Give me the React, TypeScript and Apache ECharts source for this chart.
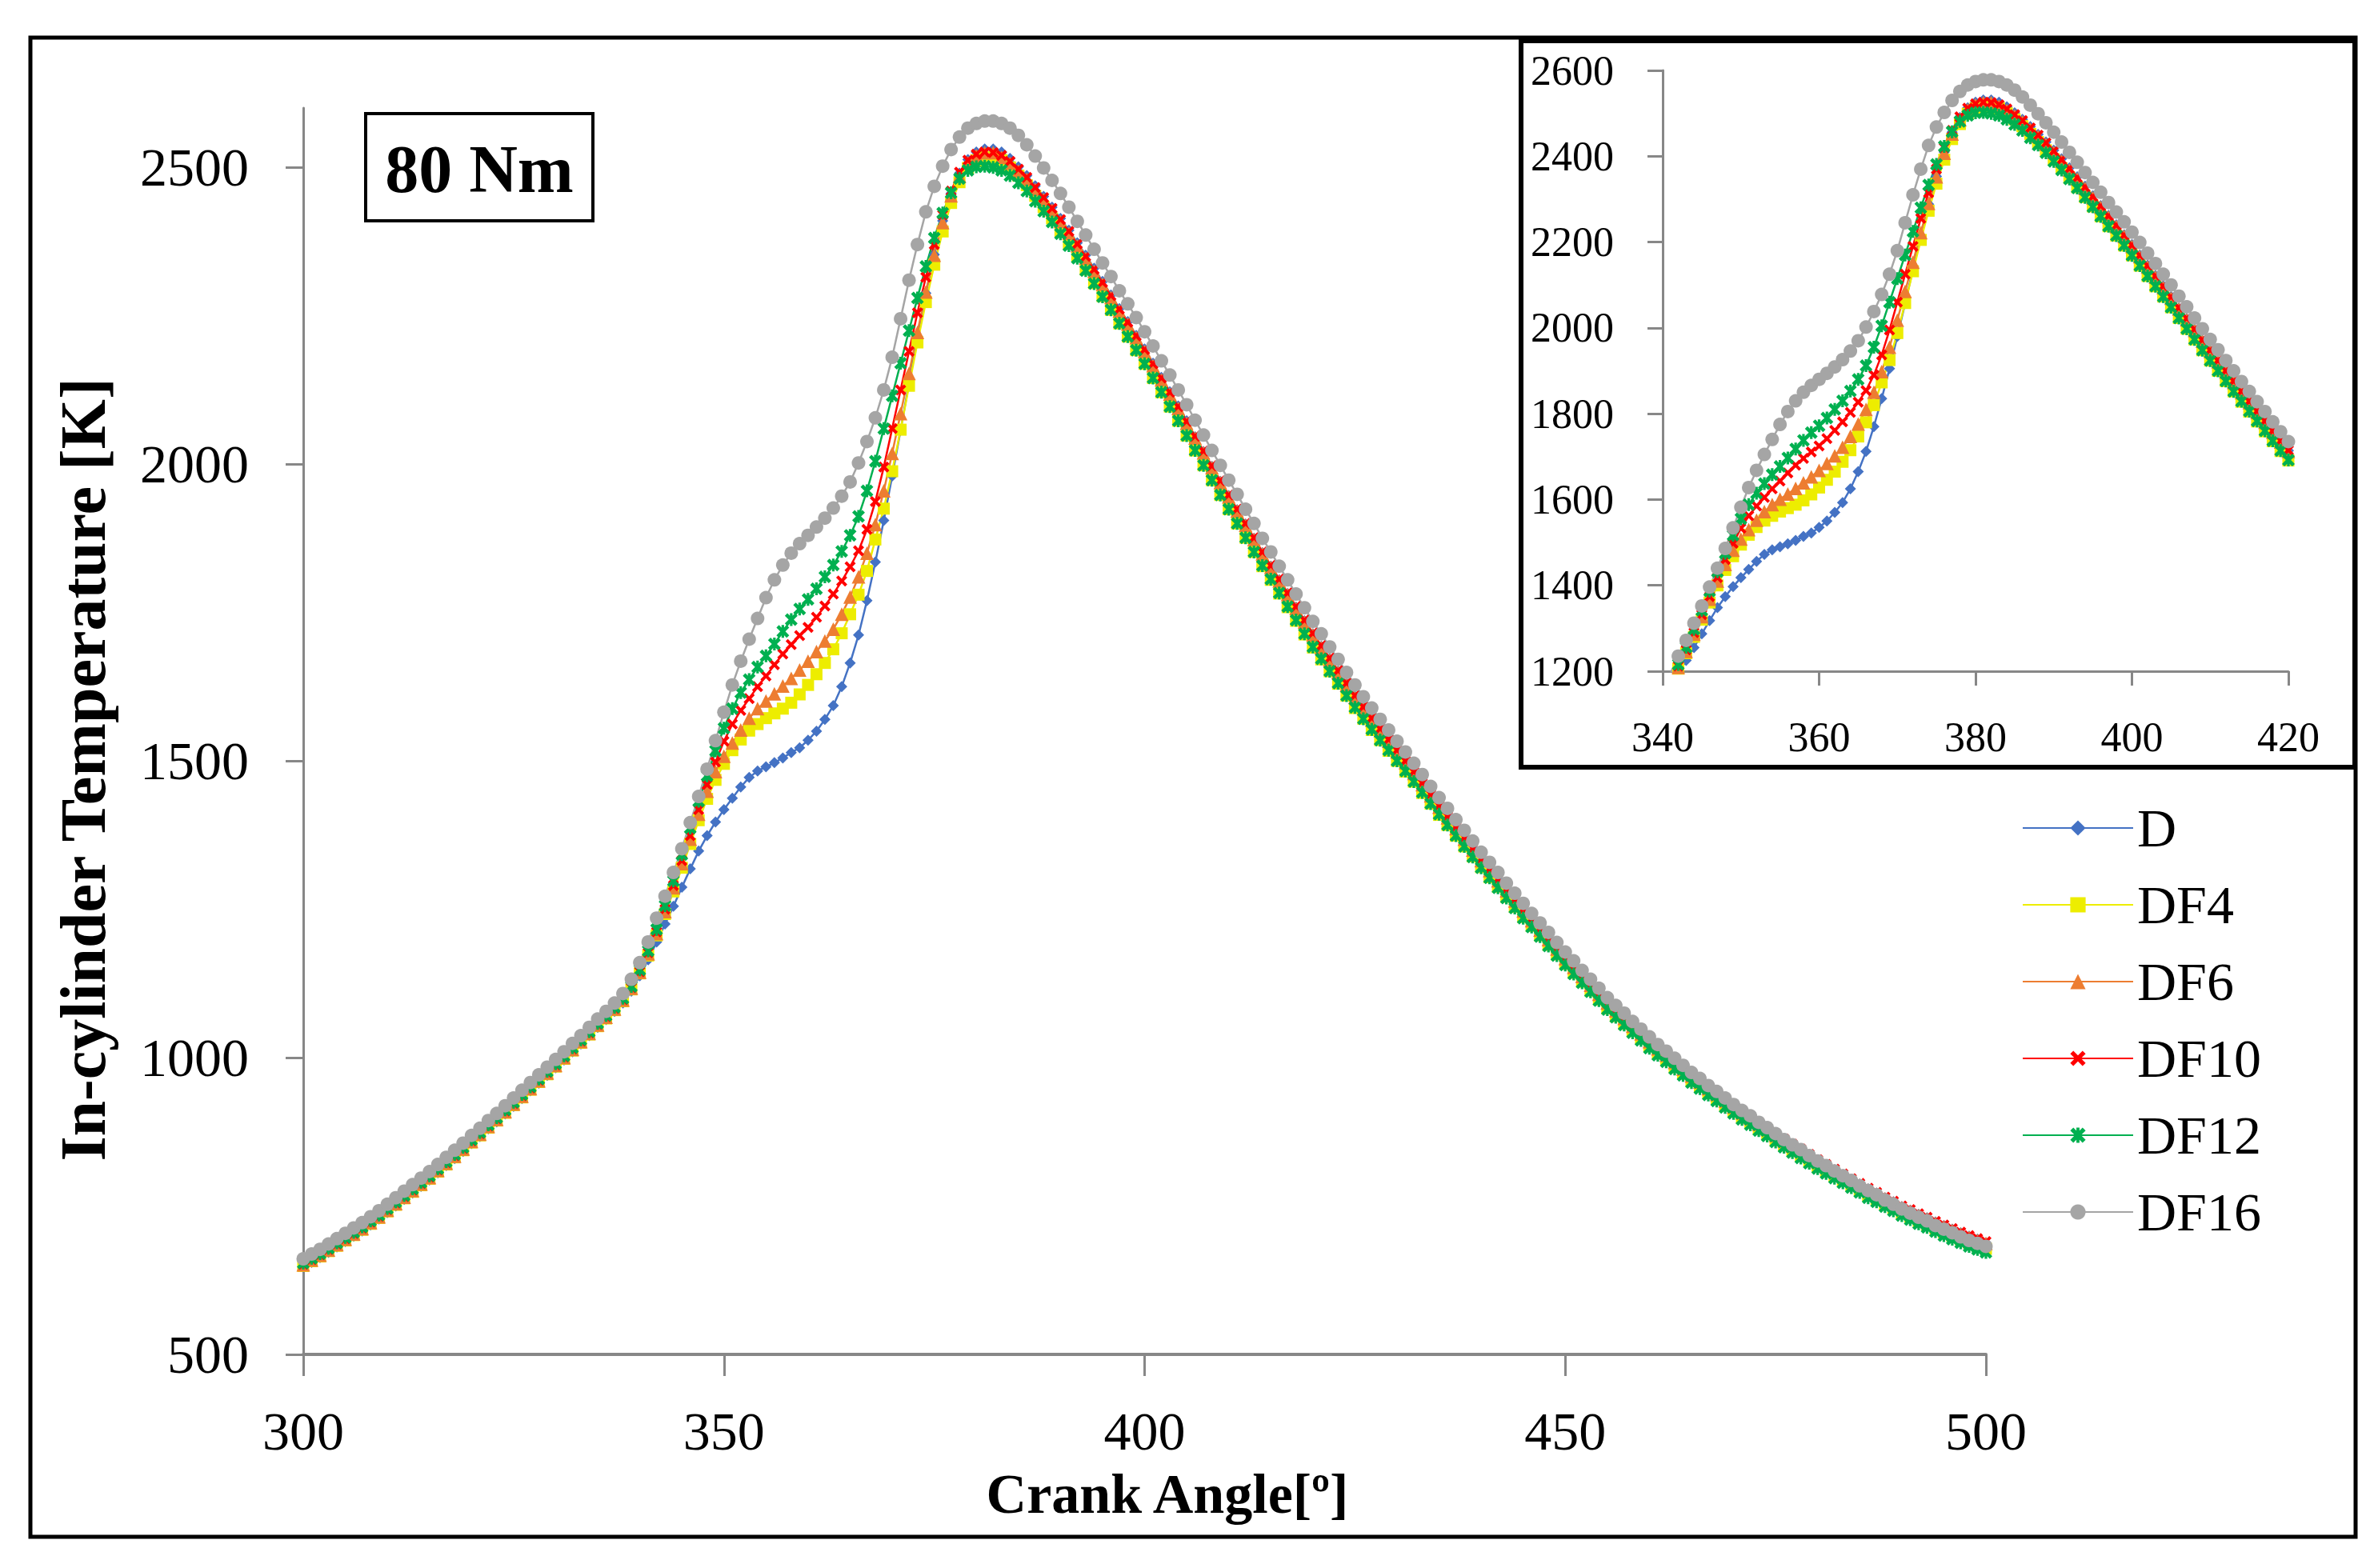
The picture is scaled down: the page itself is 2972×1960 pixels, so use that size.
import React, { useEffect, useRef } from "react";
import * as echarts from "echarts";

// ---------- data (crank angle 300..500 deg, step 1) ----------
const CRANK_START = 300;
const CRANK_STEP = 1;

const SERIES_NAMES = ["D", "DF4", "DF6", "DF10", "DF12", "DF16"];

const T_D = [
  647,655,663,672,681,690,699,708,718,728,
  739,750,761,772,783,794,806,818,830,842,
  855,867,880,892,905,918,931,944,957,970,
  983,996,1010,1023,1037,1051,1064,1078,1092,1112,
  1138,1165,1195,1225,1255,1287,1318,1348,1374,1397,
  1418,1437,1456,1472,1483,1490,1497,1505,1514,1522,
  1535,1550,1570,1593,1625,1665,1712,1770,1835,1905,
  1980,2057,2137,2215,2288,2353,2410,2456,2490,2513,
  2526,2531,2531,2526,2515,2501,2486,2469,2451,2433,
  2414,2394,2373,2352,2330,2308,2285,2262,2240,2217,
  2194,2170,2146,2122,2098,2073,2046,2021,1996,1971,
  1947,1923,1899,1875,1851,1828,1805,1782,1759,1736,
  1714,1693,1672,1651,1630,1609,1590,1571,1553,1535,
  1517,1499,1481,1462,1443,1424,1406,1388,1370,1352,
  1334,1317,1300,1283,1266,1249,1233,1217,1201,1185,
  1169,1154,1139,1124,1109,1094,1081,1068,1055,1042,
  1029,1017,1006,994,983,971,961,950,940,929,
  919,909,900,890,881,871,862,853,845,836,
  827,819,811,803,795,787,779,772,764,757,
  749,743,736,730,723,717,711,705,699,694,
  688,
];

const T_DF4 = [
  649,657,665,674,683,692,701,710,720,730,
  741,752,763,774,785,796,808,820,832,844,
  857,869,882,894,907,920,933,946,959,972,
  985,998,1012,1025,1039,1053,1066,1080,1095,1115,
  1142,1172,1206,1242,1280,1320,1360,1400,1436,1468,
  1495,1518,1536,1551,1562,1572,1580,1588,1598,1612,
  1628,1646,1665,1688,1715,1747,1780,1820,1873,1925,
  1988,2058,2132,2205,2273,2336,2392,2440,2475,2499,
  2512,2517,2517,2512,2500,2486,2470,2452,2433,2414,
  2393,2372,2350,2328,2305,2283,2260,2237,2215,2192,
  2169,2145,2121,2097,2073,2048,2023,1998,1973,1948,
  1924,1900,1876,1852,1828,1805,1782,1759,1736,1713,
  1691,1671,1651,1630,1610,1589,1571,1552,1535,1517,
  1500,1482,1465,1446,1428,1409,1392,1374,1356,1339,
  1321,1304,1288,1271,1254,1237,1222,1206,1190,1174,
  1158,1143,1128,1113,1098,1083,1070,1057,1045,1032,
  1019,1007,996,984,973,961,951,940,930,919,
  909,899,890,880,871,861,852,843,835,826,
  817,809,801,793,785,777,768,761,753,746,
  738,732,725,719,712,706,700,694,688,683,
  678,
];

const T_DF6 = [
  651,659,667,676,685,694,703,712,722,732,
  743,754,765,776,787,798,810,822,834,846,
  859,871,884,896,909,922,935,948,961,974,
  987,1000,1014,1027,1041,1055,1068,1082,1097,1117,
  1144,1175,1209,1246,1286,1327,1368,1410,1449,1482,
  1508,1530,1552,1572,1588,1601,1613,1626,1639,1653,
  1668,1684,1702,1722,1747,1776,1810,1850,1898,1955,
  2018,2085,2153,2222,2290,2352,2407,2452,2485,2508,
  2520,2525,2525,2517,2507,2494,2480,2463,2446,2428,
  2409,2389,2368,2347,2325,2303,2281,2258,2236,2213,
  2190,2166,2142,2118,2094,2069,2044,2019,1994,1969,
  1945,1921,1897,1873,1849,1826,1803,1780,1757,1734,
  1712,1691,1670,1649,1628,1607,1588,1569,1551,1533,
  1515,1497,1479,1460,1441,1422,1404,1386,1368,1350,
  1332,1315,1298,1281,1264,1247,1231,1215,1199,1183,
  1167,1152,1137,1122,1107,1092,1079,1066,1053,1040,
  1027,1015,1004,992,981,969,959,948,938,927,
  917,907,898,888,879,869,860,851,843,834,
  825,817,809,801,793,785,777,770,762,755,
  747,741,734,728,721,715,709,703,697,692,
  687,
];

const T_DF10 = [
  652,660,668,677,686,695,704,713,723,733,
  744,755,766,777,788,799,811,823,835,847,
  860,872,885,897,910,923,936,949,962,975,
  988,1001,1015,1028,1042,1056,1069,1083,1098,1118,
  1145,1177,1212,1250,1290,1332,1374,1418,1460,1498,
  1533,1562,1585,1605,1625,1643,1662,1680,1696,1711,
  1725,1742,1761,1781,1803,1827,1854,1890,1937,1995,
  2060,2125,2190,2255,2315,2370,2420,2460,2492,2512,
  2522,2526,2525,2520,2510,2497,2483,2466,2449,2431,
  2412,2392,2371,2350,2328,2306,2284,2261,2239,2216,
  2193,2169,2145,2121,2097,2072,2047,2022,1997,1972,
  1948,1924,1900,1876,1852,1829,1806,1783,1760,1737,
  1715,1694,1673,1652,1631,1610,1591,1572,1554,1536,
  1518,1500,1482,1463,1444,1425,1407,1389,1371,1353,
  1335,1318,1301,1284,1267,1250,1234,1218,1202,1186,
  1170,1155,1140,1125,1110,1095,1082,1069,1056,1043,
  1030,1018,1007,995,984,972,962,951,941,930,
  920,910,901,891,882,872,863,854,846,837,
  828,820,812,804,796,788,780,773,765,758,
  750,744,737,731,724,718,712,706,700,695,
  690,
];

const T_DF12 = [
  654,662,670,679,688,697,706,715,725,735,
  746,757,768,779,790,801,813,825,837,849,
  862,874,887,899,912,925,938,951,964,977,
  990,1003,1017,1030,1044,1058,1071,1085,1100,1120,
  1148,1180,1216,1256,1298,1342,1387,1432,1475,1517,
  1555,1588,1615,1637,1658,1677,1697,1718,1738,1756,
  1772,1790,1810,1830,1853,1880,1912,1955,2005,2060,
  2115,2170,2225,2280,2333,2381,2423,2457,2481,2495,
  2501,2502,2500,2495,2486,2474,2460,2443,2426,2408,
  2388,2368,2347,2326,2304,2282,2260,2237,2215,2192,
  2169,2145,2121,2097,2073,2048,2023,1998,1973,1948,
  1924,1900,1876,1852,1829,1806,1783,1760,1737,1714,
  1692,1672,1651,1631,1610,1590,1571,1553,1535,1518,
  1500,1483,1465,1447,1428,1410,1392,1374,1356,1338,
  1320,1303,1286,1269,1252,1235,1220,1204,1188,1172,
  1156,1141,1126,1111,1096,1081,1068,1055,1042,1029,
  1016,1004,993,981,970,958,948,937,927,916,
  906,896,887,877,868,858,849,840,831,822,
  813,805,797,789,781,773,764,757,749,742,
  734,727,720,714,707,700,694,688,682,677,
  672,
];

const T_DF16 = [
  661,669,677,686,695,704,713,722,732,742,
  753,764,775,786,797,808,820,832,844,856,
  869,881,894,906,919,932,945,958,971,984,
  997,1010,1024,1037,1051,1065,1078,1092,1108,1132,
  1160,1195,1235,1272,1312,1352,1396,1440,1486,1534,
  1582,1628,1668,1705,1740,1775,1805,1830,1850,1866,
  1880,1894,1909,1926,1946,1970,2002,2038,2078,2125,
  2180,2245,2310,2370,2425,2468,2502,2530,2551,2566,
  2574,2578,2578,2574,2566,2554,2538,2519,2499,2478,
  2456,2433,2409,2386,2362,2339,2316,2292,2270,2247,
  2223,2199,2174,2150,2125,2100,2074,2049,2023,1998,
  1973,1949,1924,1900,1875,1852,1828,1805,1781,1758,
  1735,1714,1692,1671,1649,1628,1608,1589,1570,1552,
  1533,1515,1496,1477,1457,1438,1420,1401,1383,1365,
  1346,1329,1312,1294,1277,1260,1243,1227,1211,1194,
  1178,1163,1147,1132,1117,1101,1088,1075,1061,1048,
  1035,1022,1011,999,987,975,965,953,943,932,
  921,911,902,891,882,872,862,853,845,835,
  826,818,809,801,793,784,776,769,760,753,
  745,738,731,725,717,711,705,698,692,687,
  682,
];

const SERIES_VALUES = [T_D, T_DF4, T_DF6, T_DF10, T_DF12, T_DF16];

const MAIN_Y_TICKS = [500, 1000, 1500, 2000, 2500];
const MAIN_X_RANGE = [300, 500];
const MAIN_Y_RANGE = [500, 2600];
const INSET_X_RANGE = [340, 420];
const INSET_Y_RANGE = [1200, 2600];

const LOAD_LABEL = "80 Nm";
const X_TITLE = "Crank Angle[º]";
const Y_TITLE = "In-cylinder Temperature [K]";

// ---------- styling ----------
const W = 2972;
const H = 1960;
const FONT = "'Liberation Serif', 'Times New Roman', serif";
const AXIS_GRAY = "#878787";

const X_SYMBOL = "path://M0,2L2,0L5,3L8,0L10,2L7,5L10,8L8,10L5,7L2,10L0,8L3,5Z";
const STAR_SYMBOL =
  "path://M0,2L2,0L5,3L8,0L10,2L7,5L10,8L8,10L5,7L2,10L0,8L3,5ZM4,0L6,0L6,10L4,10Z";

const STYLES = [
  { color: "#4472C4", symbol: "diamond", size: 14 },
  { color: "#EDED00", symbol: "rect", size: 15 },
  { color: "#ED7D31", symbol: "triangle", size: 17 },
  { color: "#FF0000", symbol: X_SYMBOL, size: 14 },
  { color: "#00B050", symbol: STAR_SYMBOL, size: 16 },
  { color: "#A5A5A5", symbol: "circle", size: 17 },
];

export default function App() {
  const ref = useRef<HTMLDivElement>(null);

  useEffect(() => {
    document.body.style.margin = "0";
    if (!ref.current) return;
    const chart = echarts.init(ref.current, null, { renderer: "svg", width: W, height: H });

    const series: any[] = [];
    SERIES_VALUES.forEach((vals, k) => {
      const st = STYLES[k];
      const pairs = vals.map((v, i) => [CRANK_START + i * CRANK_STEP, v]);
      const base = {
        type: "line",
        name: SERIES_NAMES[k],
        symbol: st.symbol,
        lineStyle: { color: st.color, width: 2.5 },
        itemStyle: { color: st.color },
        emphasis: { disabled: true },
        silent: true,
        animation: false,
        clip: true,
      };
      series.push({ ...base, xAxisIndex: 0, yAxisIndex: 0, symbolSize: st.size, data: pairs });
      series.push({
        ...base,
        xAxisIndex: 1,
        yAxisIndex: 1,
        symbolSize: st.size,
        data: pairs.filter((p) => p[0] >= INSET_X_RANGE[0] && p[0] <= INSET_X_RANGE[1]),
      });
    });

    const labelMain = { color: "#000", fontFamily: FONT, fontSize: 68 };
    const labelInset = { color: "#000", fontFamily: FONT, fontSize: 52 };
    const plain = (v: number) => String(v);

    chart.setOption({
      animation: false,
      backgroundColor: "#ffffff",
      grid: [
        { left: 379, top: 135, width: 2103, height: 1558 },
        { left: 2078, top: 88, width: 782, height: 751 },
      ],
      xAxis: [
        {
          type: "value",
          gridIndex: 0,
          min: MAIN_X_RANGE[0],
          max: MAIN_X_RANGE[1],
          interval: 50,
          axisLine: { show: true, lineStyle: { color: AXIS_GRAY, width: 4 } },
          axisTick: { show: true, inside: false, length: 27, lineStyle: { color: AXIS_GRAY, width: 3 } },
          axisLabel: { ...labelMain, margin: 62, formatter: plain },
          splitLine: { show: false },
        },
        {
          type: "value",
          gridIndex: 1,
          min: INSET_X_RANGE[0],
          max: INSET_X_RANGE[1],
          interval: 20,
          axisLine: { show: true, lineStyle: { color: AXIS_GRAY, width: 3 } },
          axisTick: { show: true, inside: false, length: 18, lineStyle: { color: AXIS_GRAY, width: 3 } },
          axisLabel: { ...labelInset, margin: 56, formatter: plain },
          splitLine: { show: false },
        },
      ],
      yAxis: [
        {
          type: "value",
          gridIndex: 0,
          min: MAIN_Y_RANGE[0],
          max: MAIN_Y_RANGE[1],
          interval: 500,
          axisLine: { show: true, lineStyle: { color: AXIS_GRAY, width: 3 } },
          axisTick: {
            show: true,
            inside: false,
            length: 22,
            customValues: MAIN_Y_TICKS,
            lineStyle: { color: AXIS_GRAY, width: 3 },
          },
          axisLabel: {
            ...labelMain,
            margin: 68,
            customValues: MAIN_Y_TICKS,
            formatter: (v: number) => (MAIN_Y_TICKS.indexOf(v) >= 0 ? String(v) : ""),
          },
          splitLine: { show: false },
        },
        {
          type: "value",
          gridIndex: 1,
          min: INSET_Y_RANGE[0],
          max: INSET_Y_RANGE[1],
          interval: 200,
          axisLine: { show: true, lineStyle: { color: AXIS_GRAY, width: 3 } },
          axisTick: { show: true, inside: false, length: 19, lineStyle: { color: AXIS_GRAY, width: 3 } },
          axisLabel: { ...labelInset, margin: 61, formatter: plain },
          splitLine: { show: false },
        },
      ],
      legend: {
        orient: "vertical",
        left: 2527,
        top: 997,
        padding: 0,
        itemWidth: 138,
        itemHeight: 24,
        itemGap: 20,
        selectedMode: false,
        data: SERIES_NAMES,
        textStyle: { color: "#000", fontFamily: FONT, fontSize: 68, lineHeight: 76 },
      },
      graphic: [
        {
          type: "rect",
          shape: { x: 38, y: 47, width: 2906, height: 1874 },
          style: { fill: "none", stroke: "#000", lineWidth: 5 },
          silent: true,
        },
        {
          type: "rect",
          shape: { x: 1901, y: 51, width: 1042, height: 908 },
          style: { fill: "none", stroke: "#000", lineWidth: 6 },
          silent: true,
        },
        {
          type: "rect",
          shape: { x: 457, y: 142, width: 284, height: 134 },
          style: { fill: "#fff", stroke: "#000", lineWidth: 4 },
          silent: true,
        },
        {
          type: "text",
          x: 599,
          y: 211,
          silent: true,
          style: {
            text: LOAD_LABEL,
            fill: "#000",
            fontFamily: FONT,
            fontSize: 84,
            fontWeight: "bold",
            textAlign: "center",
            textVerticalAlign: "middle",
            align: "center",
            verticalAlign: "middle",
          },
        },
        {
          type: "text",
          x: 1459,
          y: 1867,
          silent: true,
          style: {
            text: X_TITLE,
            fill: "#000",
            fontFamily: FONT,
            fontSize: 70,
            fontWeight: "bold",
            textAlign: "center",
            textVerticalAlign: "middle",
            align: "center",
            verticalAlign: "middle",
          },
        },
        {
          type: "text",
          x: 104,
          y: 962,
          rotation: Math.PI / 2,
          silent: true,
          style: {
            text: Y_TITLE,
            fill: "#000",
            fontFamily: FONT,
            fontSize: 80,
            fontWeight: "bold",
            textAlign: "center",
            textVerticalAlign: "middle",
            align: "center",
            verticalAlign: "middle",
          },
        },
      ],
      series,
    });

    return () => {
      chart.dispose();
    };
  }, []);

  return <div ref={ref} style={{ width: W, height: H }} />;
}
